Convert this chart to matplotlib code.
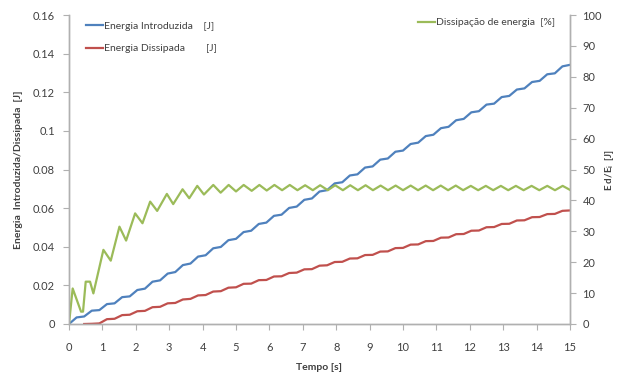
import numpy as np
import matplotlib
matplotlib.use("Agg")
import matplotlib.pyplot as plt

plt.rcParams["font.family"] = ["Lato", "DejaVu Sans"]

# Time axis shared by the two energy curves [s]
tempo = np.linspace(0, 15, 67)

# Energia Introduzida [J]
energia_intro = [
    0.0000, 0.0034, 0.0039, 0.0069, 0.0072, 0.0103, 0.0107, 0.0139, 0.0143, 0.0176,
    0.0183, 0.0219, 0.0226, 0.0261, 0.0269, 0.0305, 0.0313, 0.0349, 0.0356, 0.0392,
    0.0399, 0.0434, 0.0441, 0.0476, 0.0483, 0.0518, 0.0525, 0.0560, 0.0566, 0.0601,
    0.0608, 0.0643, 0.0650, 0.0686, 0.0693, 0.0728, 0.0734, 0.0769, 0.0775, 0.0810,
    0.0816, 0.0851, 0.0857, 0.0892, 0.0898, 0.0932, 0.0939, 0.0973, 0.0980, 0.1014,
    0.1021, 0.1055, 0.1062, 0.1096, 0.1102, 0.1136, 0.1141, 0.1175, 0.1181, 0.1214,
    0.1220, 0.1253, 0.1259, 0.1293, 0.1298, 0.1334, 0.1342,
]

# Energia Dissipada [J] (no curve before ~0.45 s)
energia_diss = [
    np.nan, np.nan, 0.0000, 0.0001, 0.0003, 0.0025, 0.0027, 0.0046, 0.0048, 0.0066,
    0.0068, 0.0087, 0.0089, 0.0107, 0.0109, 0.0127, 0.0130, 0.0148, 0.0150, 0.0168,
    0.0170, 0.0188, 0.0190, 0.0208, 0.0209, 0.0227, 0.0228, 0.0246, 0.0247, 0.0264,
    0.0266, 0.0283, 0.0284, 0.0302, 0.0304, 0.0321, 0.0322, 0.0339, 0.0340, 0.0357,
    0.0358, 0.0375, 0.0376, 0.0393, 0.0394, 0.0411, 0.0412, 0.0429, 0.0430, 0.0447,
    0.0448, 0.0465, 0.0466, 0.0483, 0.0484, 0.0501, 0.0502, 0.0518, 0.0519, 0.0536,
    0.0537, 0.0553, 0.0554, 0.0569, 0.0570, 0.0586, 0.0588,
]

# Dissipação de energia [%], turning points of the curve
tempo_diss = [
    0.00, 0.11, 0.36, 0.42, 0.50, 0.63, 0.73, 1.03, 1.25, 1.51, 1.71, 1.98, 2.20,
    2.43, 2.64, 2.93, 3.12, 3.40, 3.60, 3.84, 4.04, 4.32, 4.54, 4.78, 5.00, 5.23,
    5.47, 5.70, 5.92, 6.15, 6.38, 6.61, 6.84, 7.07, 7.30, 7.52, 7.75, 7.97, 8.20,
    8.42, 8.65, 8.88, 9.10, 9.33, 9.55, 9.78, 10.00, 10.23, 10.45, 10.68, 10.90,
    11.13, 11.35, 11.58, 11.80, 12.03, 12.25, 12.48, 12.70, 12.93, 13.15, 13.38,
    13.61, 13.85, 14.08, 14.32, 14.55, 14.78, 15.00,
]
dissipacao = [
    0.0, 11.5, 4.0, 4.0, 13.7, 13.7, 9.9, 24.0, 20.5, 31.5, 27.0, 35.8, 32.6,
    39.6, 36.6, 42.1, 38.8, 43.6, 40.7, 44.7, 41.9, 45.0, 42.5, 45.0, 42.9, 45.0,
    43.1, 45.0, 43.2, 45.0, 43.3, 45.0, 43.3, 44.9, 43.3, 44.9, 43.3, 44.9, 43.3,
    44.9, 43.3, 44.9, 43.3, 44.8, 43.3, 44.8, 43.3, 44.8, 43.3, 44.8, 43.3,
    44.8, 43.3, 44.8, 43.3, 44.7, 43.3, 44.7, 43.3, 44.7, 43.3, 44.7,
    43.3, 44.7, 43.3, 44.7, 43.3, 44.7, 43.4,
]

AZUL = "#4F81BD"
VERMELHO = "#C0504D"
VERDE = "#9BBB59"
CINZA = "#B0B0B0"
TEXTO = "#404040"

fig = plt.figure(figsize=(6.18, 3.74), dpi=100)
ax = fig.add_axes([69 / 618, 1 - 324 / 374, 501 / 618, 309 / 374])
ax2 = ax.twinx()

ax.plot(tempo, energia_intro, color=AZUL, lw=1.6, label="Energia Introduzida    [J]")
ax.plot(tempo, energia_diss, color=VERMELHO, lw=1.6, label="Energia Dissipada        [J]")
ax2.plot(tempo_diss, dissipacao, color=VERDE, lw=1.6, label="Dissipação de energia  [%]")

ax.set_xlim(0, 15)
ax.set_ylim(0, 0.16)
ax2.set_ylim(0, 100)
ax.set_xticks(np.arange(0, 16, 1))
ax.set_yticks(np.arange(0, 0.161, 0.02))
ax.set_yticklabels(["0", "0.02", "0.04", "0.06", "0.08", "0.1", "0.12", "0.14", "0.16"])
ax2.set_yticks(np.arange(0, 101, 10))

for a in (ax, ax2):
    a.spines["top"].set_visible(False)
    for s in ("left", "right", "bottom"):
        a.spines[s].set_color(CINZA)
        a.spines[s].set_linewidth(1.0)
    a.tick_params(direction="out", length=4, width=0.8, color=CINZA,
                  labelsize=8, labelcolor=TEXTO, pad=6)
ax.tick_params(axis="x", pad=9)
ax2.tick_params(axis="y", pad=5)

ax.set_xlabel("Tempo [s]", fontsize=7.5, color=TEXTO, fontweight="bold", labelpad=7)
ax.set_ylabel("Energia  Introduzida/Dissipada  [J]", fontsize=7.5, color=TEXTO,
              fontweight="bold", labelpad=7)
ax2.set_ylabel("E d/E$_\\mathregular{i}$  [J]", fontsize=7, color=TEXTO,
               fontweight="bold", labelpad=1)

ax.legend(loc="upper left", bbox_to_anchor=(0.015, 1.01), frameon=False,
          fontsize=7.5, handlelength=1.6, handletextpad=0.15, labelspacing=1.3,
          labelcolor=TEXTO)
ax2.legend(loc="upper right", bbox_to_anchor=(0.99, 1.02), frameon=False,
           fontsize=7.5, handlelength=1.6, handletextpad=0.15, labelcolor=TEXTO)

fig.savefig("out.png", dpi=100)
